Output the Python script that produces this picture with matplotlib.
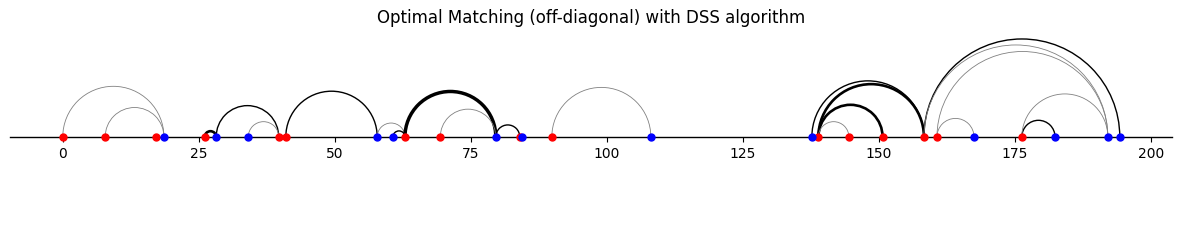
import numpy as np
import matplotlib
matplotlib.use("Agg")
import matplotlib.pyplot as plt
from matplotlib.patches import Arc

# positions of the two point sets on the line
red_pts = [0, 7.8, 17.1, 26.1, 39.7, 41.0, 62.9, 69.4, 84.0, 89.9,
           138.9, 144.5, 150.7, 158.3, 160.7, 176.3]
blue_pts = [18.6, 28.2, 34.1, 57.8, 60.7, 79.6, 84.5, 108.1,
            137.7, 167.5, 182.4, 192.1, 194.3]

# matched pairs (left end, right end) and how strong each match is
arc_left = [0, 7.8, 26.1, 28.2, 34.1, 41.0, 57.8, 60.7, 62.9, 69.4, 79.6,
            89.9, 137.7, 138.9, 138.9, 138.9, 158.3, 158.3, 160.7, 160.7,
            176.3, 176.3]
arc_right = [18.6, 18.6, 28.2, 39.7, 39.7, 57.8, 62.9, 62.9, 79.6, 79.6, 84.0,
             108.1, 158.3, 158.3, 150.7, 144.5, 194.3, 192.1, 192.1, 167.5,
             182.4, 192.1]
strength = [1, 1, 3, 2, 1, 2, 1, 2, 4, 1, 2,
            1, 2, 3, 3, 1, 2, 1, 1, 1,
            2, 1]

styles = {1: ("0.5", 0.6), 2: ("black", 1.0), 3: ("black", 1.9), 4: ("black", 2.5)}

fig = plt.figure(figsize=(11.82, 2.43), dpi=100)
# axes placed so that one data unit is the same size on x and y
ax = fig.add_axes([10 / 1182, 0, 1162 / 1182, 213 / 243])

for a, b, s in zip(arc_left, arc_right, strength):
    col, lw = styles[s]
    d = b - a
    ax.add_patch(Arc(((a + b) / 2, 0), d, d, theta1=0, theta2=180,
                     color=col, lw=lw, zorder=2))

ax.plot(red_pts, np.zeros(len(red_pts)), "o", color="red", markersize=5, zorder=3)
ax.plot(blue_pts, np.zeros(len(blue_pts)), "o", color="blue", markersize=5, zorder=3)

ax.set_xlim(-9.7, 203.9)
ax.set_ylim(-19.5, 19.65)
ax.spines["bottom"].set_position(("data", 0))
ax.spines["bottom"].set_linewidth(1.0)
for sp in ["left", "top", "right"]:
    ax.spines[sp].set_visible(False)
ax.set_yticks([])
ax.set_xticks([0, 25, 50, 75, 100, 125, 150, 175, 200])
ax.set_title("Optimal Matching (off-diagonal) with DSS algorithm", pad=5)

fig.savefig("out.png", dpi=100)
